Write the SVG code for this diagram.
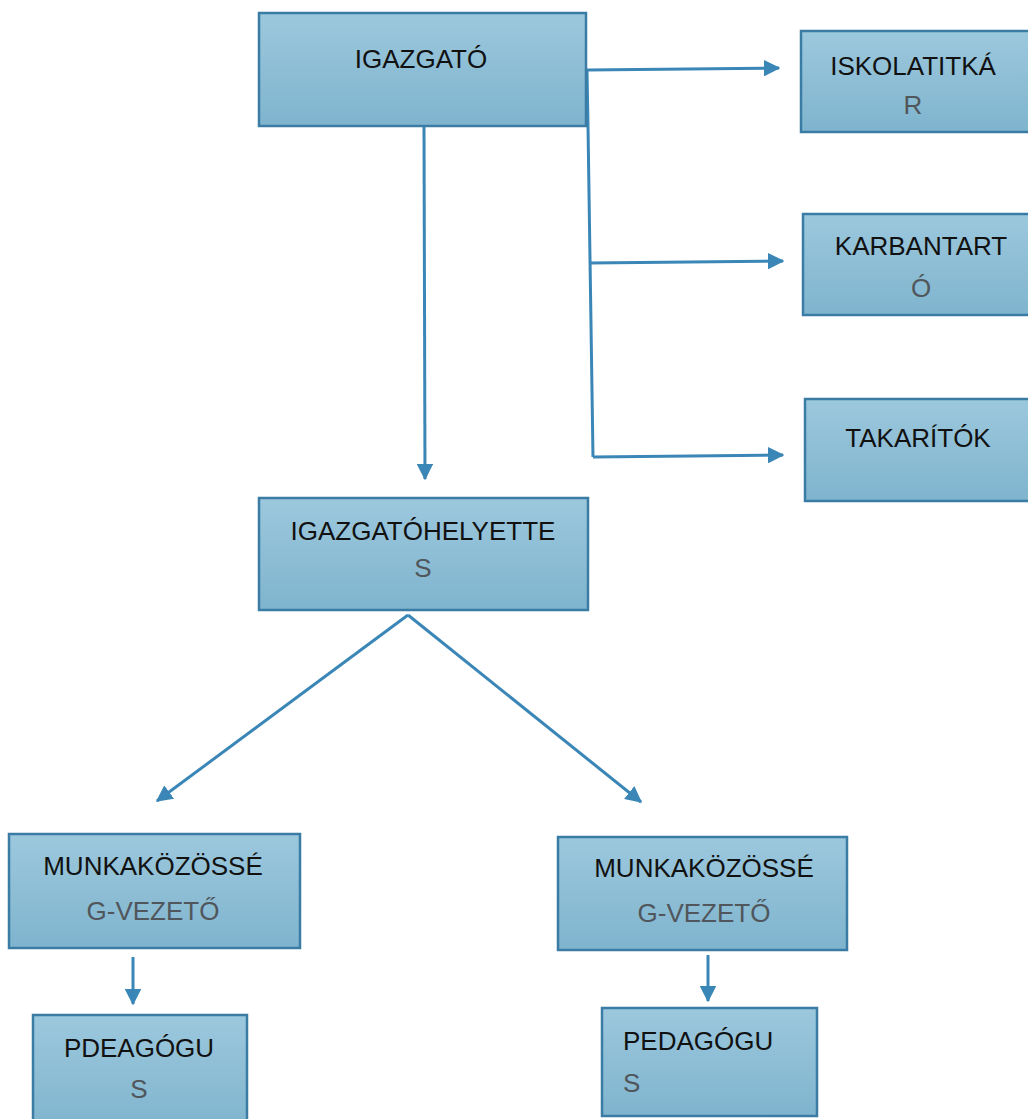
<svg xmlns="http://www.w3.org/2000/svg" width="1028" height="1119" viewBox="0 0 1028 1119">
<defs>
<linearGradient id="boxfill" x1="0" y1="0" x2="0" y2="1">
<stop offset="0" stop-color="#9cc8dd"/>
<stop offset="1" stop-color="#7fb4ce"/>
</linearGradient>
<marker id="arr" viewBox="0 0 12 12" refX="11" refY="6" markerWidth="5.5" markerHeight="5.5" markerUnits="strokeWidth" orient="auto">
<path d="M0,0 L12,6 L0,12 Z" fill="#3a86b6"/>
</marker>
<style>
.box{fill:url(#boxfill);stroke:#3b7ca5;stroke-width:2.5}
.t1{font-family:"Liberation Sans",Arial,sans-serif;font-size:26px;fill:#111111}
.t2{font-family:"Liberation Sans",Arial,sans-serif;font-size:26px;fill:#50565b}
.c{text-anchor:middle}
.ln{stroke:#3a86b6;stroke-width:3;fill:none}
</style>
</defs>
<rect width="1028" height="1119" fill="#ffffff"/>
<g id="connectors">
<line class="ln" x1="424" y1="127" x2="425" y2="479" marker-end="url(#arr)"/>
<line class="ln" x1="587" y1="70" x2="779" y2="68" marker-end="url(#arr)"/>
<polyline class="ln" points="587,70 588,126 593,457"/>
<line class="ln" x1="590" y1="263" x2="783" y2="261" marker-end="url(#arr)"/>
<line class="ln" x1="593" y1="457" x2="783" y2="455" marker-end="url(#arr)"/>
<line class="ln" x1="408" y1="615" x2="157" y2="801" marker-end="url(#arr)"/>
<line class="ln" x1="408" y1="615" x2="641" y2="802" marker-end="url(#arr)"/>
<line class="ln" x1="133" y1="957" x2="133" y2="1004" marker-end="url(#arr)"/>
<line class="ln" x1="708" y1="955" x2="708" y2="1001" marker-end="url(#arr)"/>
</g>
<g id="igazgato">
<rect class="box" x="259" y="13" width="327" height="113"/>
<text class="t1 c" x="421" y="68">IGAZGATÓ</text>
</g>
<g id="iskolatitkar">
<rect class="box" x="801" y="31" width="240" height="101"/>
<text class="t1 c" x="913" y="75">ISKOLATITKÁ</text>
<text class="t2 c" x="913" y="114">R</text>
</g>
<g id="karbantarto">
<rect class="box" x="803" y="214" width="240" height="101"/>
<text class="t1 c" x="921" y="255">KARBANTART</text>
<text class="t2 c" x="921" y="297">Ó</text>
</g>
<g id="takaritok">
<rect class="box" x="805" y="399" width="240" height="102"/>
<text class="t1 c" x="918" y="447">TAKARÍTÓK</text>
</g>
<g id="igazgatohelyettes">
<rect class="box" x="259" y="498" width="329" height="112"/>
<text class="t1 c" x="423" y="540">IGAZGATÓHELYETTE</text>
<text class="t2 c" x="423" y="577">S</text>
</g>
<g id="munkakozosseg-bal">
<rect class="box" x="9" y="834" width="291" height="114"/>
<text class="t1 c" x="153" y="875">MUNKAKÖZÖSSÉ</text>
<text class="t2 c" x="153" y="920">G-VEZETŐ</text>
</g>
<g id="pedagogus-bal">
<rect class="box" x="33" y="1015" width="214" height="115"/>
<text class="t1 c" x="139" y="1057">PDEAGÓGU</text>
<text class="t2 c" x="139" y="1098">S</text>
</g>
<g id="munkakozosseg-jobb">
<rect class="box" x="558" y="837" width="289" height="113"/>
<text class="t1 c" x="704" y="877">MUNKAKÖZÖSSÉ</text>
<text class="t2 c" x="704" y="922">G-VEZETŐ</text>
</g>
<g id="pedagogus-jobb">
<rect class="box" x="602" y="1008" width="215" height="108"/>
<text class="t1" x="623" y="1050">PEDAGÓGU</text>
<text class="t2" x="623" y="1092">S</text>
</g>
</svg>
